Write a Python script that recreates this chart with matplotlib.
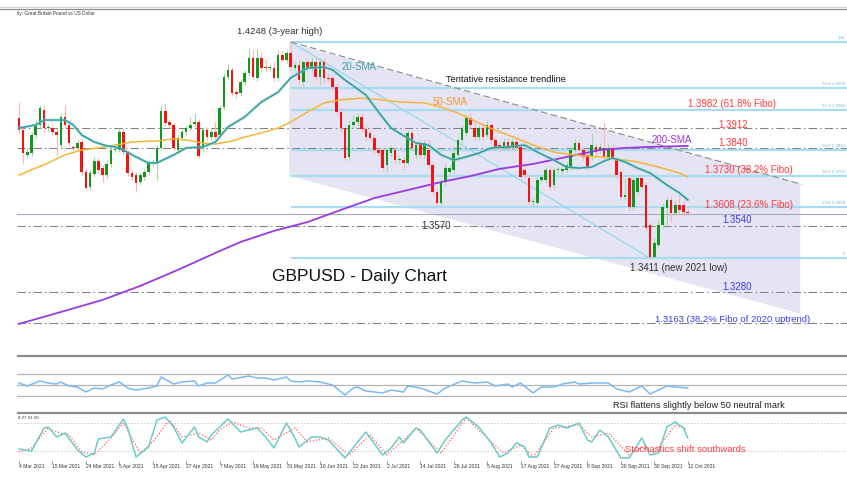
import matplotlib.pyplot as plt
from matplotlib.lines import Line2D
import numpy as np

plt.rcParams['font.family'] = ['Liberation Sans', 'DejaVu Sans']

W, H = 847, 482

# --- daily GBPUSD bars (4 Mar 2021 - 12 Oct 2021) ---
opens = [
    1.3954, 1.3907, 1.3811, 1.3818, 1.3888, 1.3927, 1.3985, 1.3915, 1.3915, 1.3900,
    1.3849, 1.3958, 1.3927, 1.3842, 1.3838, 1.3861, 1.3745, 1.3687, 1.3737, 1.3787,
    1.3760, 1.3733, 1.3776, 1.3830, 1.3830, 1.3900, 1.3822, 1.3741, 1.3733, 1.3706,
    1.3726, 1.3745, 1.3780, 1.3780, 1.3838, 1.3981, 1.3938, 1.3927, 1.3830, 1.3876,
    1.3900, 1.3915, 1.3931, 1.3938, 1.3838, 1.3907, 1.3880, 1.3900, 1.3888, 1.3996,
    1.4112, 1.4140, 1.4054, 1.4051, 1.4093, 1.4128, 1.4186, 1.4109, 1.4186, 1.4151,
    1.4147, 1.4147, 1.4109, 1.4198, 1.4178, 1.4205, 1.4147, 1.4159, 1.4093, 1.4171,
    1.4147, 1.4171, 1.4112, 1.4171, 1.4109, 1.4109, 1.4074, 1.3977, 1.3915, 1.3803,
    1.3927, 1.3938, 1.3958, 1.3911, 1.3896, 1.3876, 1.3830, 1.3830, 1.3772, 1.3818,
    1.3830, 1.3791, 1.3791, 1.3780, 1.3896, 1.3811, 1.3857, 1.3811, 1.3830, 1.3772,
    1.3668, 1.3625, 1.3706, 1.3745, 1.3753, 1.3811, 1.3869, 1.3896, 1.3954, 1.3915,
    1.3880, 1.3915, 1.3888, 1.3927, 1.3869, 1.3849, 1.3838, 1.3861, 1.3838, 1.3861,
    1.3842, 1.3753, 1.3722, 1.3629, 1.3625, 1.3714, 1.3714, 1.3753, 1.3695, 1.3753,
    1.3749, 1.3753, 1.3764, 1.3830, 1.3857, 1.3830, 1.3811, 1.3803, 1.3842, 1.3830,
    1.3838, 1.3803, 1.3838, 1.3791, 1.3745, 1.3648, 1.3722, 1.3610, 1.3668, 1.3722,
    1.3695, 1.3540, 1.3416, 1.3463, 1.3540, 1.3606, 1.3637, 1.3586, 1.3617, 1.3617, 1.3590,
]
highs = [
    1.4016, 1.3915, 1.3838, 1.3900, 1.3946, 1.4004, 1.4004, 1.3931, 1.3927, 1.3915,
    1.3973, 1.4004, 1.3938, 1.3849, 1.3869, 1.3873, 1.3760, 1.3753, 1.3803, 1.3799,
    1.3772, 1.3791, 1.3846, 1.3846, 1.3915, 1.3915, 1.3830, 1.3753, 1.3745, 1.3745,
    1.3757, 1.3791, 1.3795, 1.3849, 1.4000, 1.4012, 1.3950, 1.3938, 1.3888, 1.3911,
    1.3927, 1.3958, 1.3973, 1.3950, 1.3919, 1.3919, 1.3911, 1.3938, 1.4004, 1.4128,
    1.4163, 1.4151, 1.4066, 1.4105, 1.4140, 1.4225, 1.4217, 1.4221, 1.4209, 1.4178,
    1.4163, 1.4171, 1.4217, 1.4213, 1.4217, 1.4248, 1.4171, 1.4178, 1.4178, 1.4186,
    1.4190, 1.4190, 1.4186, 1.4186, 1.4128, 1.4120, 1.4085, 1.3993, 1.3927, 1.3946,
    1.3965, 1.3973, 1.3973, 1.3927, 1.3907, 1.3888, 1.3842, 1.3842, 1.3842, 1.3849,
    1.3842, 1.3807, 1.3803, 1.3907, 1.3907, 1.3861, 1.3869, 1.3869, 1.3869, 1.3784,
    1.3679, 1.3718, 1.3776, 1.3772, 1.3830, 1.3880, 1.3927, 1.3969, 1.3977, 1.3938,
    1.3927, 1.3938, 1.3946, 1.3938, 1.3880, 1.3861, 1.3876, 1.3876, 1.3876, 1.3876,
    1.3857, 1.3768, 1.3733, 1.3644, 1.3726, 1.3737, 1.3764, 1.3764, 1.3764, 1.3768,
    1.3768, 1.3784, 1.3846, 1.3873, 1.3869, 1.3842, 1.3822, 1.3896, 1.3857, 1.3857,
    1.3935, 1.3857, 1.3857, 1.3803, 1.3757, 1.3722, 1.3733, 1.3726, 1.3733, 1.3733,
    1.3706, 1.3551, 1.3490, 1.3559, 1.3625, 1.3648, 1.3648, 1.3633, 1.3671, 1.3637, 1.3606,
]
lows = [
    1.3896, 1.3780, 1.3799, 1.3807, 1.3876, 1.3915, 1.3900, 1.3904, 1.3888, 1.3811,
    1.3838, 1.3915, 1.3846, 1.3826, 1.3830, 1.3733, 1.3675, 1.3675, 1.3726, 1.3741,
    1.3706, 1.3722, 1.3764, 1.3822, 1.3822, 1.3811, 1.3729, 1.3714, 1.3668, 1.3695,
    1.3714, 1.3733, 1.3768, 1.3714, 1.3830, 1.3923, 1.3915, 1.3830, 1.3818, 1.3865,
    1.3888, 1.3904, 1.3919, 1.3799, 1.3826, 1.3869, 1.3869, 1.3869, 1.3876, 1.3985,
    1.4101, 1.4039, 1.4031, 1.4039, 1.4082, 1.4116, 1.4101, 1.4097, 1.4132, 1.4136,
    1.4136, 1.4097, 1.4097, 1.4171, 1.4167, 1.4140, 1.4136, 1.4085, 1.4078, 1.4132,
    1.4132, 1.4101, 1.4082, 1.4089, 1.4093, 1.4062, 1.3965, 1.3900, 1.3791, 1.3791,
    1.3915, 1.3923, 1.3900, 1.3869, 1.3865, 1.3818, 1.3807, 1.3749, 1.3745, 1.3807,
    1.3780, 1.3780, 1.3753, 1.3772, 1.3826, 1.3799, 1.3799, 1.3799, 1.3760, 1.3656,
    1.3617, 1.3617, 1.3695, 1.3733, 1.3741, 1.3799, 1.3857, 1.3884, 1.3915, 1.3869,
    1.3869, 1.3869, 1.3876, 1.3857, 1.3826, 1.3826, 1.3826, 1.3826, 1.3830, 1.3830,
    1.3714, 1.3722, 1.3617, 1.3613, 1.3617, 1.3702, 1.3702, 1.3675, 1.3683, 1.3741,
    1.3737, 1.3741, 1.3753, 1.3818, 1.3818, 1.3791, 1.3753, 1.3791, 1.3811, 1.3818,
    1.3791, 1.3791, 1.3787, 1.3722, 1.3637, 1.3637, 1.3598, 1.3598, 1.3656, 1.3675,
    1.3517, 1.3411, 1.3411, 1.3451, 1.3528, 1.3540, 1.3551, 1.3575, 1.3582, 1.3579, 1.3586,
]
closes = [
    1.3907, 1.3818, 1.3822, 1.3888, 1.3927, 1.3993, 1.3915, 1.3919, 1.3900, 1.3888,
    1.3958, 1.3927, 1.3857, 1.3838, 1.3857, 1.3745, 1.3683, 1.3741, 1.3787, 1.3753,
    1.3733, 1.3776, 1.3830, 1.3834, 1.3900, 1.3822, 1.3741, 1.3726, 1.3702, 1.3733,
    1.3745, 1.3780, 1.3784, 1.3838, 1.3981, 1.3935, 1.3927, 1.3838, 1.3876, 1.3900,
    1.3915, 1.3927, 1.3938, 1.3807, 1.3907, 1.3880, 1.3900, 1.3880, 1.3993, 1.4112,
    1.4140, 1.4051, 1.4047, 1.4093, 1.4128, 1.4186, 1.4112, 1.4186, 1.4147, 1.4147,
    1.4151, 1.4109, 1.4198, 1.4178, 1.4205, 1.4151, 1.4159, 1.4101, 1.4171, 1.4147,
    1.4171, 1.4112, 1.4171, 1.4109, 1.4105, 1.4074, 1.3977, 1.3915, 1.3799, 1.3927,
    1.3938, 1.3958, 1.3911, 1.3880, 1.3876, 1.3830, 1.3818, 1.3760, 1.3830, 1.3838,
    1.3791, 1.3795, 1.3780, 1.3896, 1.3838, 1.3849, 1.3811, 1.3857, 1.3772, 1.3668,
    1.3625, 1.3706, 1.3760, 1.3760, 1.3818, 1.3869, 1.3915, 1.3954, 1.3927, 1.3880,
    1.3915, 1.3880, 1.3927, 1.3869, 1.3838, 1.3838, 1.3861, 1.3838, 1.3861, 1.3838,
    1.3726, 1.3733, 1.3629, 1.3633, 1.3714, 1.3726, 1.3753, 1.3687, 1.3753, 1.3757,
    1.3757, 1.3772, 1.3830, 1.3857, 1.3830, 1.3803, 1.3764, 1.3849, 1.3822, 1.3842,
    1.3803, 1.3838, 1.3799, 1.3733, 1.3648, 1.3656, 1.3610, 1.3714, 1.3722, 1.3687,
    1.3528, 1.3416, 1.3470, 1.3540, 1.3610, 1.3637, 1.3586, 1.3617, 1.3598, 1.3590, 1.3586,
]

# --- moving averages (bar index, price) ---
sma20_idx = [0, 4, 6, 11, 13, 15, 18, 21, 23, 25, 28, 31, 33, 37, 40, 44, 47, 50, 54, 58,
             62, 65, 69, 73, 75, 78, 83, 86, 89, 93, 95, 98, 101, 104, 106, 110, 113, 117,
             121, 124, 128, 131, 134, 137, 140, 142, 145, 148, 151, 155, 158, 160]
sma20_val = [1.3915, 1.3927, 1.3946, 1.3946, 1.3927, 1.3888, 1.3861, 1.3846, 1.3842, 1.3830,
             1.3803, 1.3780, 1.3780, 1.3811, 1.3838, 1.3842, 1.3861, 1.3919, 1.3958, 1.4016,
             1.4054, 1.4109, 1.4147, 1.4151, 1.4140, 1.4101, 1.4043, 1.3977, 1.3915, 1.3876,
             1.3857, 1.3849, 1.3811, 1.3791, 1.3799, 1.3818, 1.3838, 1.3842, 1.3849, 1.3822,
             1.3791, 1.3764, 1.3760, 1.3764, 1.3787, 1.3799, 1.3784, 1.3760, 1.3741, 1.3695,
             1.3664, 1.3637]
sma50_idx = [0, 4, 7, 11, 15, 19, 23, 27, 33, 37, 40, 44, 47, 51, 54, 58, 62, 65, 69, 73,
             77, 82, 87, 91, 97, 101, 105, 108, 111, 115, 119, 123, 128, 131, 135, 140, 143,
             148, 153, 158, 160]
sma50_val = [1.3733, 1.3760, 1.3780, 1.3811, 1.3830, 1.3838, 1.3849, 1.3861, 1.3865, 1.3873,
             1.3869, 1.3857, 1.3853, 1.3865, 1.3880, 1.3896, 1.3915, 1.3938, 1.3977, 1.4012,
             1.4024, 1.4031, 1.4024, 1.4016, 1.4012, 1.3996, 1.3973, 1.3950, 1.3927, 1.3900,
             1.3876, 1.3849, 1.3822, 1.3815, 1.3807, 1.3803, 1.3795, 1.3784, 1.3764, 1.3741,
             1.3726]
sma200_idx = [0, 10, 20, 29, 38, 48, 53, 61, 69, 77, 85, 93, 101, 108, 115, 123, 131, 139,
              145, 151, 160]
sma200_val = [1.3157, 1.3203, 1.3250, 1.3304, 1.3366, 1.3439, 1.3474, 1.3517, 1.3551, 1.3598,
              1.3644, 1.3675, 1.3706, 1.3729, 1.3757, 1.3776, 1.3803, 1.3830, 1.3838, 1.3842,
              1.3846]

# --- RSI and stochastics ---
rsi_idx = [0, 2, 5, 7, 9, 10, 12, 14, 16, 18, 20, 22, 24, 26, 28, 31, 33, 34, 37, 39,
           42, 43, 45, 47, 50, 51, 55, 57, 59, 61, 64, 65, 67, 69, 72, 75, 78, 80, 81, 83,
           87, 89, 92, 93, 96, 100, 102, 106, 109, 112, 114, 117, 118, 120, 123, 125, 128,
           130, 133, 134, 137, 141, 143, 146, 149, 151, 153, 155, 157, 160]
rsi_val = [53.6, 48.2, 57.3, 53.6, 51.8, 55.5, 48.2, 46.4, 37.3, 44.5, 42.7, 50.0, 55.5,
           44.5, 40.9, 44.5, 48.2, 64.5, 51.8, 55.5, 57.3, 48.2, 53.6, 53.6, 68.2, 60.9,
           66.4, 62.7, 62.7, 59.1, 64.5, 57.3, 55.5, 57.3, 55.5, 50.0, 31.8, 44.5, 46.4,
           39.1, 35.5, 40.9, 37.3, 48.2, 44.5, 33.6, 44.5, 57.3, 53.6, 55.5, 48.2, 51.8,
           46.4, 53.6, 35.5, 46.4, 46.4, 51.8, 55.5, 51.8, 53.6, 53.6, 42.7, 37.3, 48.2,
           33.6, 40.9, 48.2, 46.4, 44.5]
k_idx = [0, 3, 4, 6, 7, 9, 11, 14, 16, 18, 19, 22, 25, 26, 28, 31, 33, 35, 37, 39,
         42, 43, 45, 46, 50, 53, 57, 59, 61, 64, 66, 67, 70, 72, 74, 78, 82, 83, 87, 89,
         91, 92, 95, 96, 100, 102, 106, 107, 110, 113, 115, 117, 119, 121, 122, 124, 127,
         129, 131, 134, 136, 137, 139, 141, 144, 146, 149, 151, 153, 155, 157, 159, 160]
k_val = [24.3, 20.0, 37.1, 69.3, 71.4, 50.0, 58.6, 22.1, 7.1, 15.7, 45.7, 50.0, 88.6, 69.3,
         7.1, 28.6, 86.4, 92.9, 71.4, 37.1, 71.4, 50.0, 39.3, 54.3, 88.6, 60.7, 69.3, 50.0,
         26.4, 80.0, 47.9, 28.6, 50.0, 50.0, 43.6, 5.0, 50.0, 60.7, 11.4, 26.4, 50.0, 37.1,
         69.3, 65.0, 15.7, 43.6, 86.4, 92.9, 71.4, 37.1, 7.1, 15.7, 37.1, 28.6, 7.1, 7.1,
         69.3, 75.7, 69.3, 80.0, 43.6, 39.3, 65.0, 50.0, 5.0, 5.0, 47.9, 11.4, 15.7, 71.4,
         82.1, 69.3, 47.9]
d_idx = [0, 3, 7, 9, 12, 15, 18, 22, 25, 29, 32, 36, 39, 43, 46, 48, 51, 55, 58, 61,
         66, 69, 74, 79, 84, 88, 92, 95, 101, 107, 113, 116, 120, 123, 128, 132, 134, 137,
         141, 146, 149, 152, 157, 160]
d_val = [17.9, 26.4, 69.3, 60.7, 54.3, 17.9, 11.4, 47.9, 80.0, 15.7, 39.3, 86.4, 50.0,
         58.6, 43.6, 65.0, 82.1, 69.3, 69.3, 43.6, 69.3, 39.3, 47.9, 11.4, 54.3, 11.4,
         43.6, 69.3, 15.7, 90.7, 39.3, 15.7, 32.9, 7.1, 69.3, 73.6, 75.7, 50.0, 58.6,
         11.4, 28.6, 15.7, 75.7, 65.0]

# --- date axis ---
tick_idx = list(range(0, 161, 8))
tick_labels = ["4 Mar 2021", "15 Mar 2021", "24 Mar 2021", "5 Apr 2021", "15 Apr 2021",
               "27 Apr 2021", "7 May 2021", "19 May 2021", "31 May 2021", "10 Jun 2021",
               "22 Jun 2021", "2 Jul 2021", "14 Jul 2021", "26 Jul 2021", "5 Aug 2021",
               "17 Aug 2021", "27 Aug 2021", "8 Sep 2021", "20 Sep 2021", "30 Sep 2021",
               "12 Oct 2021"]

# --- levels and drawings ---
fibo_pct = ["100", "78.6 1.4070", "61.8 1.3982", "50.0 1.3830", "38.2 1.3730", "23.6 1.3608", "0"]
fibo_lvl = [1.4248, 1.4070, 1.3985, 1.3830, 1.3729, 1.3610, 1.3411]
dashdot_lvl = [1.3915, 1.3839, 1.3536, 1.3281, 1.3162]
solid_lvl = 1.3582
high_bar, low_bar = 65, 151
channel_x = [64.5, 186.8]
channel_top = [1.4248, 1.3702]
channel_bot = [1.3733, 1.3199]
trend_x = [65, 187.3]
trend_y = [1.4248, 1.3697]

opens, highs, lows, closes = map(np.array, (opens, highs, lows, closes))
idx = np.arange(len(closes))
XL, XR = -0.48, 198.1


def fig_rect(left, top, right, bottom):
    return [left / W, 1 - bottom / H, (right - left) / W, (bottom - top) / H]


fig = plt.figure(figsize=(W / 100, H / 100), dpi=100)
ax = fig.add_axes(fig_rect(17, 10, 847, 352))
ax_r = fig.add_axes(fig_rect(17, 358, 847, 410))
ax_s = fig.add_axes(fig_rect(17, 414, 847, 461))

for a in (ax, ax_r, ax_s):
    a.set_xlim(XL, XR)
    for sp in a.spines.values():
        sp.set_visible(False)
    a.set_yticks([])
ax.set_xticks([])
ax_r.set_xticks([])
ax.set_ylim(1.30483, 1.43718)
ax_r.set_ylim(4.55, 99.1)
ax_s.set_ylim(-1.5, 99.3)

# channel + levels
ax.fill_between(channel_x, channel_bot, channel_top, color='#e4e4f4', lw=0, zorder=0)
ax.plot(trend_x, trend_y, color='#8a8a8a', lw=0.8, ls=(0, (6, 3)), zorder=2)
for lv in dashdot_lvl:
    ax.axhline(lv, color='#808080', lw=0.75, ls=(0, (8, 3, 1.5, 3)), zorder=1)
ax.axhline(solid_lvl, color='#a8a8c0', lw=0.8, zorder=1)
ax.hlines(fibo_lvl, high_bar, XR, color='#a9dcf2', lw=1.6, zorder=1)
ax.plot([high_bar, low_bar], [fibo_lvl[0], fibo_lvl[-1]], color='#7fd6ef', lw=0.7, zorder=1)
for lab, lv in zip(fibo_pct, fibo_lvl):
    ax.text(XR - 0.5, lv + 0.0009, lab, fontsize=3.2, color='#6fb8e0', ha='right', va='bottom')

# candles
up = closes >= opens
body_lo = np.minimum(opens, closes)
body_h = np.maximum(np.abs(closes - opens), 0.00035)
ax.vlines(idx[up], lows[up], highs[up], color='#a6d8a6', lw=0.8, zorder=3)
ax.vlines(idx[~up], lows[~up], highs[~up], color='#ffb3b3', lw=0.8, zorder=3)
ax.bar(idx[up], body_h[up], 0.62, body_lo[up], color='#14951c', lw=0, zorder=3.5)
ax.bar(idx[~up], body_h[~up], 0.62, body_lo[~up], color='#f01414', lw=0, zorder=3.5)

# moving averages
ax.plot(sma200_idx, sma200_val, color='#9a3ae0', lw=1.3, zorder=4)
ax.plot(sma50_idx, sma50_val, color='#f2b63a', lw=1.1, zorder=4)
ax.plot(sma20_idx, sma20_val, color='#8fd0d0', lw=2.2, alpha=0.6, zorder=4)
ax.plot(sma20_idx, sma20_val, color='#2f9a9a', lw=1.0, zorder=4.1)

# RSI
for lv in (70, 50, 30):
    ax_r.axhline(lv, color='#b4b4b4', lw=0.9)
ax_r.plot(rsi_idx, rsi_val, color='#7db9f0', lw=1.1)

# stochastics
for lv in (80, 20):
    ax_s.axhline(lv, color='#c8c8c8', lw=0.6, ls=(0, (2, 2)))
ax_s.plot(d_idx, d_val, color='#ff5a5a', lw=0.9, ls=(0, (1, 1.5)))
ax_s.plot(k_idx, k_val, color='#6ccaca', lw=1.1)
ax_s.set_xticks(tick_idx)
ax_s.set_xticklabels(tick_labels, fontsize=3.6, ha='left', color='#333333')
ax_s.tick_params(axis='x', length=2.0, width=0.5, color='#666666', pad=0.5)

# panel borders
for y, c, w in [(7, '#cfcfcf', 0.8), (9, '#8c8c8c', 0.9), (356, '#8c8c8c', 1.6), (413, '#8c8c8c', 1.6)]:
    x0 = 0 if y < 20 else 18 / W
    fig.add_artist(Line2D([x0, 1], [1 - y / H] * 2, color=c, lw=w))


def label(x, y, s, color, size=7.0, **kw):
    fig.text(x / W, 1 - y / H, s, color=color, fontsize=size, ha='left', va='center', **kw)


red, blue, dark = '#ff3a3a', '#3b3bf0', '#333333'
label(17, 13, "ily: Great Britain Pound vs US Dollar", dark, 3.4)
label(18, 418, "8.27 61.50", dark, 3.2)
label(237, 31, "1.4248 (3-year high)", dark, 6.8)
label(342, 67, "20-SMA", '#45a3a3', 7.0)
label(446, 80, "Tentative resistance trendline", '#111111', 6.6)
label(433, 102, "50-SMA", '#f29a2e', 7.0)
label(688, 104, "1.3982 (61.8% Fibo)", red, 7.0)
label(718, 125, "1.3912", red, 7.0)
label(652, 140, "200-SMA", '#9a33d6', 7.0)
label(718, 143, "1.3840", red, 7.0)
label(705, 170, "1.3730 (38.2% Fibo)", red, 7.0)
label(705, 205, "1.3608 (23.6% Fibo)", red, 7.0)
label(722, 220, "1.3540", blue, 7.0)
label(421, 226, "1.3570", dark, 7.0)
label(630, 268, "1.3411 (new 2021 low)", dark, 7.0)
label(272, 276, "GBPUSD - Daily Chart", '#111111', 12.5)
label(722, 287, "1.3280", blue, 7.0)
label(655, 319, "1.3163 (38.2% Fibo of 2020 uptrend)", blue, 6.8)
label(613, 405, "RSI flattens slightly below 50 neutral mark", '#222222', 6.6)
label(625, 450, "Stochastics shift southwards", red, 6.8)

fig.savefig("out.png", dpi=100)
